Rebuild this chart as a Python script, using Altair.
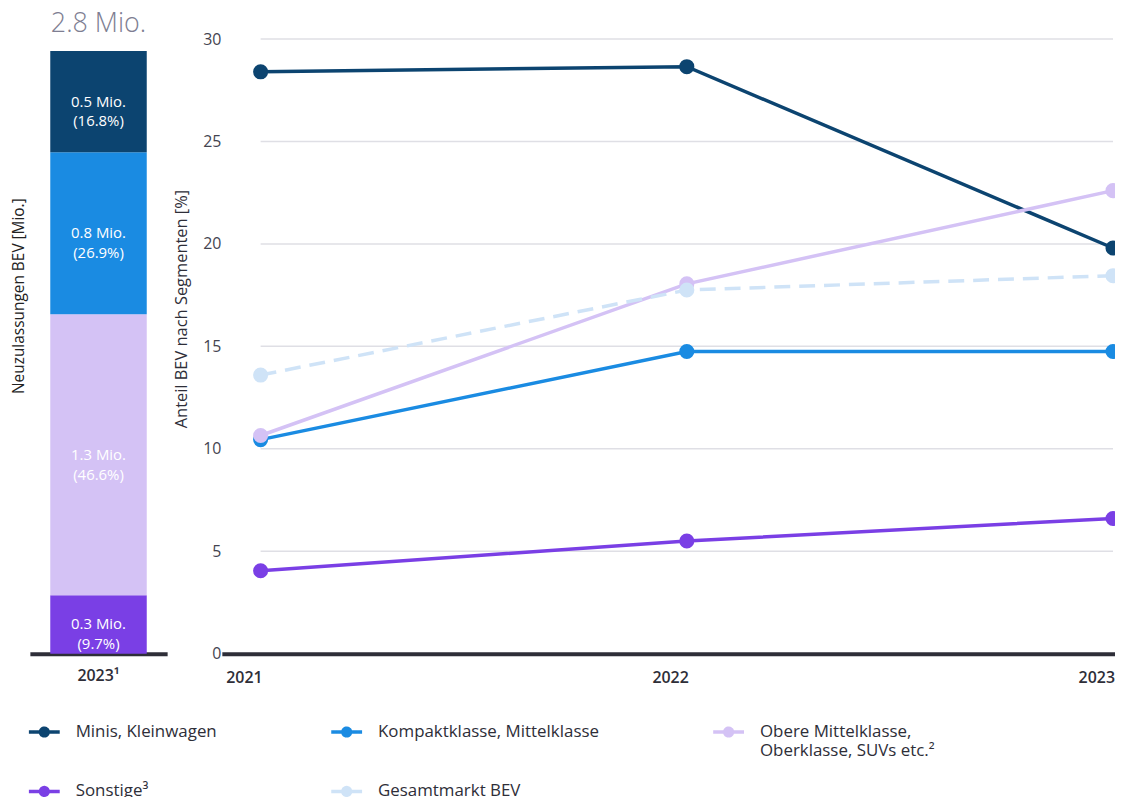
import altair as alt
import pandas as pd

FONT = "Open Sans"
DARK = "#2e2e38"

# ---- data ----
years = [2021, 2022, 2023]
year_labels = ["2021", "2022", "2023"]
series = ["Minis, Kleinwagen", "Kompaktklasse, Mittelklasse",
          "Obere Mittelklasse, Oberklasse, SUVs etc.²", "Sonstige³", "Gesamtmarkt BEV"]
minis = [28.4, 28.65, 19.8]
kompakt = [10.45, 14.75, 14.75]
obere = [10.65, 18.05, 22.6]
sonstige = [4.05, 5.5, 6.6]
gesamt = [13.6, 17.75, 18.45]
colors = ["#0c4470", "#1a8be2", "#d4c2f5", "#7a3fe5", "#cfe3f7"]

bar_segments = [series[3], series[2], series[1], series[0]]  # bottom to top
bar_mio = [0.3, 1.3, 0.8, 0.5]
bar_pct = [9.7, 46.6, 26.9, 16.8]
bar_total = "2.8 Mio."
bar_year = "2023¹"
y_ticks = [0, 5, 10, 15, 20, 25, 30]

# ---- tables ----
rows = []
for name, vals in zip(series, [minis, kompakt, obere, sonstige, gesamt]):
    for yr, v in zip(years, vals):
        rows.append({"series": name, "year": yr, "value": v})
line_df = pd.DataFrame(rows)
solid_df = line_df[line_df["series"] != series[4]]
dashed_df = line_df[line_df["series"] == series[4]]

bar_df = pd.DataFrame({"segment": bar_segments, "mio": bar_mio, "pct": bar_pct})
bar_df["cat"] = bar_year
bar_df["top"] = bar_df["pct"].cumsum()
bar_df["bottom"] = bar_df["top"] - bar_df["pct"]
bar_df["mid"] = (bar_df["top"] + bar_df["bottom"]) / 2
bar_df["label"] = [f"{m} Mio.\n({p}%)" for m, p in zip(bar_mio, bar_pct)]

total_df = pd.DataFrame({"cat": [bar_year], "total": [sum(bar_pct)], "label": [bar_total]})
grid_df = pd.DataFrame({"y": y_ticks[1:], "x0": [years[0]] * 6, "x1": [years[-1]] * 6})
xlab_df = pd.DataFrame({"year": years, "base": [y_ticks[0]] * 3, "label": year_labels})

cscale = alt.Scale(domain=series, range=colors)

# ---- left bar ----
bar_x_axis = alt.Axis(title=None, labelAngle=0, ticks=False, tickSize=0, domainWidth=4,
                      domainColor=DARK, labelPadding=14, labelFontSize=16, labelColor=DARK,
                      labelFont=FONT, labelFontWeight=600)
bar_y_axis = alt.Axis(title="Neuzulassungen BEV [Mio.]", labels=False, ticks=False, domain=False,
                      grid=False, titleFontSize=15.5, titleFontWeight="normal", titleColor="#222222",
                      titleFont=FONT, titlePadding=3, titleY=258)
bx_scale = alt.Scale(paddingInner=0, paddingOuter=0.2113)
by_scale = alt.Scale(domain=[0, 101.98], nice=False)

bars = alt.Chart(bar_df).mark_bar().encode(
    x=alt.X("cat:N", scale=bx_scale, axis=bar_x_axis),
    y=alt.Y("bottom:Q", scale=by_scale, axis=bar_y_axis),
    y2="top:Q",
    color=alt.Color("segment:N", scale=cscale, legend=None),
)
bar_labels = alt.Chart(bar_df).mark_text(
    color="white", fontSize=15, font=FONT, lineBreak="\n", lineHeight=20, baseline="middle"
).encode(
    x=alt.X("cat:N", scale=bx_scale, axis=bar_x_axis),
    y=alt.Y("mid:Q", scale=by_scale, axis=bar_y_axis),
    text="label:N",
)
total_text = alt.Chart(total_df).mark_text(
    color="#7e7e92", fontSize=27, font=FONT, fontWeight=300, baseline="middle", dy=-27
).encode(
    x=alt.X("cat:N", scale=bx_scale, axis=bar_x_axis),
    y=alt.Y("total:Q", scale=by_scale, axis=bar_y_axis),
    text="label:N",
)
left = alt.layer(bars, bar_labels, total_text).properties(width=138, height=618)

# ---- right line chart ----
x_scale = alt.Scale(domain=[2020.909, 2023.0047], nice=False, zero=False)
y_scale = alt.Scale(domain=[0, 30], nice=False)
x_axis = alt.Axis(values=years, title=None, grid=False, ticks=False, tickSize=0, labels=False,
                  domainColor=DARK, domainWidth=4)
y_axis = alt.Axis(values=y_ticks, title="Anteil BEV nach Segmenten [%]", grid=False, ticks=False,
                  tickSize=0, domain=False, labelPadding=1, labelFontSize=16, labelColor="#444450",
                  labelFont=FONT, titleFontSize=16.5, titleFontWeight="normal", titleColor=DARK,
                  titleFont=FONT, titlePadding=13, titleY=271)

SYMBOL = ("M-1,0L1,0"
          "M0.08,0A0.08,0.08,0,1,1,-0.08,0A0.08,0.08,0,1,1,0.08,0"
          "M0.17,0A0.17,0.17,0,1,1,-0.17,0A0.17,0.17,0,1,1,0.17,0"
          "M0.25,0A0.25,0.25,0,1,1,-0.25,0A0.25,0.25,0,1,1,0.25,0")
legend = alt.Legend(
    title=None, orient="none", direction="horizontal", legendX=-196, legendY=679, columns=3,
    columnPadding=107, rowPadding=15, symbolType=SYMBOL, symbolSize=961, symbolStrokeWidth=3.5,
    symbolDash=[1, 0],
    labelFontSize=17, labelFont=FONT, labelColor=DARK, labelLimit=400, labelOffset=14,
    labelExpr=("datum.label == '" + series[2] + "' ? ['Obere Mittelklasse,', 'Oberklasse, SUVs etc.²']"
               " : [datum.label, '']"),
)

grid = alt.Chart(grid_df).mark_rule(color="#dfdfe5", strokeWidth=1.5).encode(
    x=alt.X("x0:Q", scale=x_scale, axis=x_axis),
    x2="x1:Q",
    y=alt.Y("y:Q", scale=y_scale, axis=y_axis),
)
xlabels = alt.Chart(xlab_df).mark_text(
    align="right", baseline="top", dx=2, dy=16, fontSize=16, fontWeight=600, color=DARK, font=FONT
).encode(
    x=alt.X("year:Q", scale=x_scale, axis=x_axis),
    y=alt.Y("base:Q", scale=y_scale, axis=y_axis),
    text="label:N",
)
lines = alt.Chart(solid_df).mark_line(strokeWidth=3.5).encode(
    x=alt.X("year:Q", scale=x_scale, axis=x_axis),
    y=alt.Y("value:Q", scale=y_scale, axis=y_axis),
    color=alt.Color("series:N", scale=cscale, legend=legend),
)
dashed = alt.Chart(dashed_df).mark_line(strokeWidth=3.5, strokeDash=[16, 9]).encode(
    x=alt.X("year:Q", scale=x_scale, axis=x_axis),
    y=alt.Y("value:Q", scale=y_scale, axis=y_axis),
    color=alt.Color("series:N", scale=cscale, legend=legend),
)
points = alt.Chart(line_df).mark_circle(size=230, opacity=1).encode(
    x=alt.X("year:Q", scale=x_scale, axis=x_axis),
    y=alt.Y("value:Q", scale=y_scale, axis=y_axis),
    color=alt.Color("series:N", scale=cscale, legend=legend),
)
right = alt.layer(grid, xlabels, lines, dashed, points).properties(width=898, height=618)

chart = (
    alt.hconcat(left, right, spacing=55, bounds="flush")
    .resolve_scale(color="independent")
    .properties(padding={"left": 4, "top": -1, "right": -6, "bottom": 0})
    .configure(font=FONT)
    .configure_view(stroke=None)
)

chart.save("out.html", embed_options={"renderer": "svg", "actions": False})
